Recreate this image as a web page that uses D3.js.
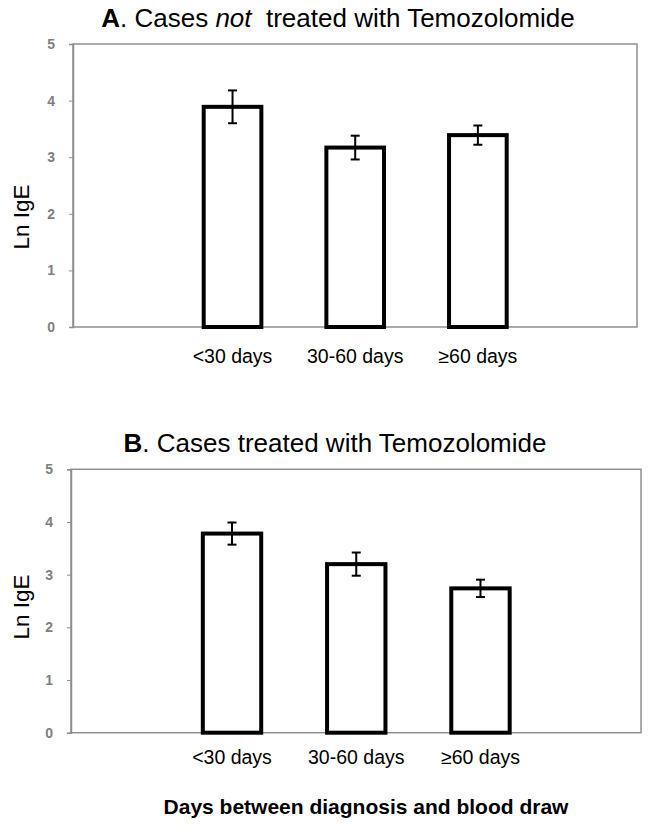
<!DOCTYPE html>
<html>
<head>
<meta charset="utf-8">
<script src="https://cdn.jsdelivr.net/npm/d3@7"></script>
<style>
  html, body { margin: 0; padding: 0; background: #fff; }
  svg { display: block; font-family: "Liberation Sans", Arial, sans-serif; }
</style>
</head>
<body>
<svg id="chart" width="654" height="835"></svg>
<script>
// ---- Data ----
const categories = ["<30 days", "30-60 days", "\u226560 days"];
const notTreatedMeans = [3.89, 3.17, 3.39];
const notTreatedErr = [0.29, 0.21, 0.17];
const treatedMeans = [3.78, 3.20, 2.74];
const treatedErr = [0.21, 0.22, 0.165];
const yTicks = [0, 1, 2, 3, 4, 5];
const yLabel = "Ln IgE";
const xTitle = "Days between diagnosis and blood draw";

const svg = d3.select("#chart");

const panels = [
  {
    means: notTreatedMeans, errs: notTreatedErr,
    frame: { left: 73, right: 637, top: 44, bottom: 327 },
    bandRange: [171.2, 539.2],
    titleX: 338, titleY: 27,
    titleParts: [
      { t: "A", w: "bold", s: "normal" },
      { t: ". Cases ", w: "normal", s: "normal" },
      { t: "not", w: "normal", s: "italic" },
      { t: "\u00a0 treated with Temozolomide", w: "normal", s: "normal" }
    ],
    xLabelY: 363, yLabelX: 28.5, yLabelY: 217
  },
  {
    means: treatedMeans, errs: treatedErr,
    frame: { left: 71, right: 641, top: 469.3, bottom: 732.7 },
    bandRange: [169.9, 542.6],
    titleX: 335, titleY: 452,
    titleParts: [
      { t: "B", w: "bold", s: "normal" },
      { t: ". Cases treated with Temozolomide", w: "normal", s: "normal" }
    ],
    xLabelY: 764, yLabelX: 28.5, yLabelY: 607
  }
];

panels.forEach(p => {
  const f = p.frame;
  const y = d3.scaleLinear().domain([0, 5]).range([f.bottom, f.top]);
  const x = d3.scaleBand().domain(categories).range(p.bandRange)
    .paddingInner(0.53).paddingOuter(0.265);

  const g = svg.append("g");

  // frame
  g.append("rect")
    .attr("x", f.left).attr("y", f.top)
    .attr("width", f.right - f.left).attr("height", f.bottom - f.top)
    .attr("fill", "none").attr("stroke", "#8e8e8e").attr("stroke-width", 1.5);

  // y axis
  const yAxis = d3.axisLeft(y).tickValues(yTicks).tickFormat(d3.format("d"))
    .tickSize(4).tickPadding(14);
  const ya = g.append("g").attr("transform", `translate(${f.left},0)`).call(yAxis);
  ya.select(".domain").attr("stroke", "#8e8e8e").attr("stroke-width", 1.5);
  ya.selectAll(".tick line").attr("stroke", "#8e8e8e").attr("stroke-width", 1);
  ya.selectAll(".tick text")
    .attr("fill", "#7f7f7f").style("font-size", "14px").style("font-weight", "bold")
    .style("font-family", "'Liberation Sans', Arial, sans-serif");

  // x axis labels (no line)
  const xAxis = d3.axisBottom(x).tickSize(0).tickPadding(0);
  const xa = g.append("g").attr("transform", `translate(0,${p.xLabelY})`).call(xAxis);
  xa.select(".domain").remove();
  xa.selectAll(".tick text")
    .attr("dy", 0).attr("y", 0)
    .attr("fill", "#000").style("font-size", "19.5px")
    .style("font-family", "'Liberation Sans', Arial, sans-serif");

  // bars
  g.selectAll("rect.bar").data(p.means).enter().append("rect")
    .attr("class", "bar")
    .attr("x", (d, i) => x(categories[i]))
    .attr("width", x.bandwidth())
    .attr("y", d => y(d))
    .attr("height", d => y(0) - y(d))
    .attr("fill", "#fff").attr("stroke", "#000").attr("stroke-width", 4);

  // error bars
  const capW = 4.5;
  p.means.forEach((m, i) => {
    const cx = x(categories[i]) + x.bandwidth() / 2;
    const e = p.errs[i];
    g.append("line").attr("x1", cx).attr("x2", cx)
      .attr("y1", y(m + e)).attr("y2", y(m - e))
      .attr("stroke", "#000").attr("stroke-width", 2);
    [m + e, m - e].forEach(v => {
      g.append("line").attr("x1", cx - capW).attr("x2", cx + capW)
        .attr("y1", y(v)).attr("y2", y(v))
        .attr("stroke", "#000").attr("stroke-width", 2);
    });
  });

  // y label
  g.append("text")
    .attr("transform", `translate(${p.yLabelX},${p.yLabelY}) rotate(-90)`)
    .attr("text-anchor", "middle")
    .style("font-size", "22.5px").attr("fill", "#000")
    .text(yLabel);

  // title
  const t = g.append("text")
    .attr("x", p.titleX).attr("y", p.titleY)
    .attr("text-anchor", "middle")
    .style("font-size", "26px").attr("fill", "#000");
  p.titleParts.forEach(part => {
    t.append("tspan").style("font-weight", part.w).style("font-style", part.s).text(part.t);
  });
});

// bottom x title
svg.append("text")
  .attr("x", 366).attr("y", 814)
  .attr("text-anchor", "middle")
  .style("font-size", "21px").style("font-weight", "bold").attr("fill", "#000")
  .text(xTitle);
</script>
</body>
</html>
